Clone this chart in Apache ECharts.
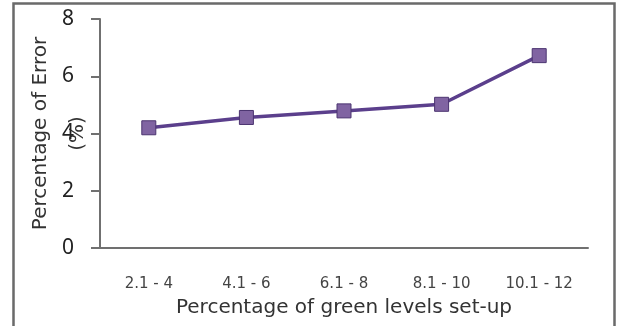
<!DOCTYPE html>
<html><head><meta charset="utf-8">
<script src="https://cdn.jsdelivr.net/npm/echarts@6/dist/echarts.min.js"></script>
<style>html,body{margin:0;padding:0;background:#fff}#c{width:619px;height:326px}</style>
</head><body><div id="c"></div>
<script>
const categories = ['2.1 - 4', '4.1 - 6', '6.1 - 8', '8.1 - 10', '10.1 - 12'];
const errorValues = [4.2, 4.56, 4.79, 5.02, 6.72];
const yTicks = [0, 2, 4, 6, 8];

const chart = echarts.init(document.getElementById('c'), null, {renderer: 'canvas'});
const font = '"DejaVu Sans", "Noto Sans", sans-serif';
chart.setOption({
  animation: false,
  backgroundColor: '#fff',
  graphic: [{
    type: 'rect', z: -1, silent: true,
    shape: {x: 13.5, y: 3.5, width: 601, height: 330},
    style: {fill: 'none', stroke: '#6a6a6a', lineWidth: 2.5}
  }],
  grid: {left: 100, right: 31, top: 19, bottom: 78, containLabel: false, outerBoundsMode: 'none'},
  xAxis: {
    type: 'category', data: categories, boundaryGap: true,
    axisLine: {lineStyle: {color: '#707070', width: 2}},
    axisTick: {show: false},
    axisLabel: {color: '#444', fontSize: 15, margin: 29, fontFamily: font},
    name: 'Percentage of green levels set-up', nameLocation: 'middle', nameGap: 50, nameMoveOverlap: false,
    nameTextStyle: {color: '#333', fontSize: 20, fontFamily: font}
  },
  yAxis: {
    type: 'value', min: yTicks[0], max: yTicks[yTicks.length - 1], interval: 2,
    axisLine: {show: true, lineStyle: {color: '#707070', width: 2}},
    axisTick: {show: true, length: 9, lineStyle: {color: '#707070', width: 2}},
    splitLine: {show: false},
    axisLabel: {color: '#222', fontSize: 21, margin: 26, fontFamily: '"Noto Sans", sans-serif'},
    name: 'Percentage of Error\n(%)', nameLocation: 'middle', nameRotate: 90, nameGap: 4, nameMoveOverlap: false,
    nameTextStyle: {color: '#333', fontSize: 20, lineHeight: 37, fontFamily: font}
  },
  series: [{
    type: 'line', data: errorValues,
    symbol: 'rect', symbolSize: 14,
    lineStyle: {color: '#5b3f8c', width: 3.5},
    itemStyle: {color: '#8064a2', borderColor: '#4b3470', borderWidth: 1}
  }]
});
</script></body></html>
